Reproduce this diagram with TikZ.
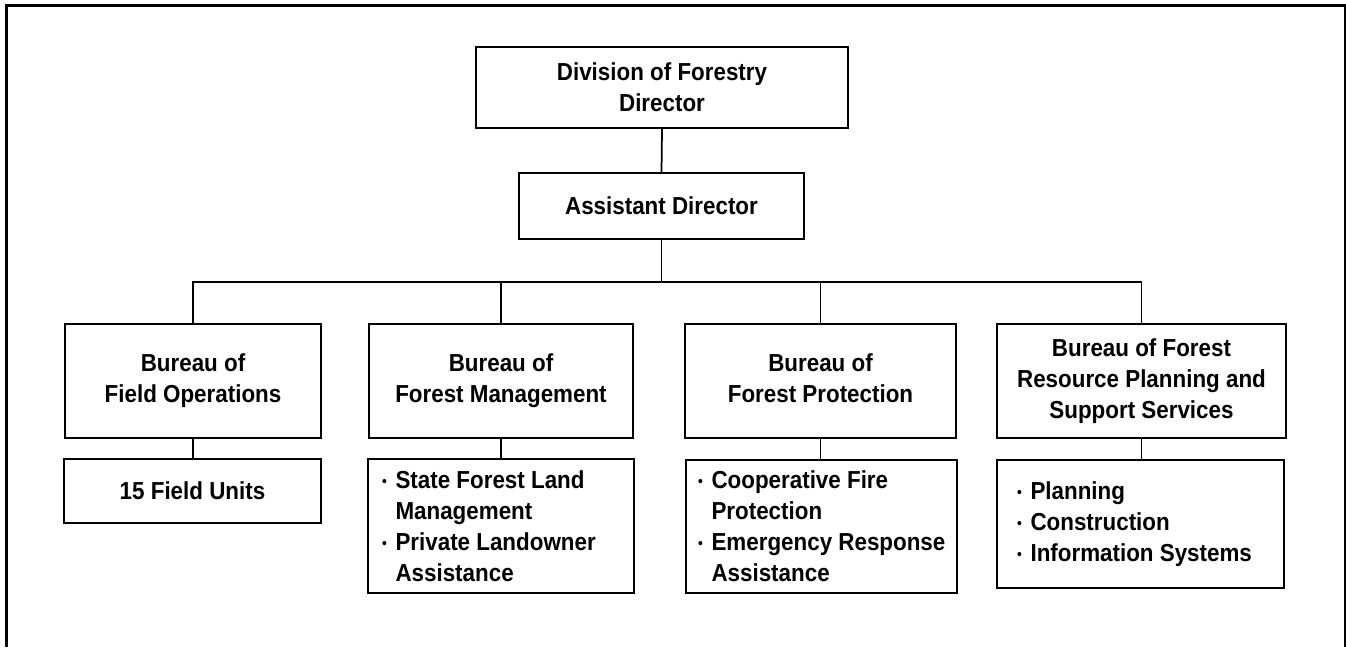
\documentclass[tikz,border=0pt]{standalone}
\usepackage{fontspec}
\setmainfont{Liberation Sans}[FakeStretch=0.91]
\usepackage{tikz}
\tikzstyle{box} = [draw,line width=0.9pt,align=center,inner sep=0pt,font=\fontsize{14}{17.6}\selectfont\bfseries]
\tikzstyle{list} = [box,align=flush left]
\tikzstyle{conn} = [line width=1pt]
\tikzstyle{frame} = [line width=1.5pt]
\newcommand{\bul}{\makebox[0.27cm][l]{\raisebox{1.2pt}{\fontsize{8.5}{8.5}\selectfont\textbullet}}}
\newcommand{\cont}{\hspace*{0.27cm}}

\begin{document}
\begin{tikzpicture}[x=0.02cm,y=-0.02cm]
          \useasboundingbox (0,0) rectangle (1346,647);
          % frame
          \draw [frame] (6.5,647) -- (6.5,5.5) -- (1345,5.5) -- (1345,647);

          % top
          \node[box,minimum width=7.44cm,minimum height=1.62cm] (dir) at (662,87.5) {Division of Forestry\\Director};
          \node[box,minimum width=5.7cm,minimum height=1.32cm] (asst) at (661.5,206) {Assistant Director};

          % bureaus
          \node[box,minimum width=5.12cm,minimum height=2.28cm] (b1) at (193,381) {Bureau of\\Field Operations};
          \node[box,minimum width=5.28cm,minimum height=2.28cm] (b2) at (501,381) {Bureau of\\Forest Management};
          \node[box,minimum width=5.42cm,minimum height=2.28cm] (b3) at (820.5,381) {Bureau of\\Forest Protection\vphantom{p}};
          \node[box,minimum width=5.78cm,minimum height=2.28cm] (b4) at (1141.5,381) {Bureau of Forest\\Resource Planning and\\Support Services};

          % units
          \node[box,minimum width=5.14cm,minimum height=1.28cm] (s1) at (192.5,491) {15 Field Units};
          \node[list,text width=4.76cm,inner xsep=0.28cm,minimum height=2.68cm] (s2) at (501,526) {\mbox{\bul State Forest Land}\\\mbox{\cont Management}\\\mbox{\bul Private Landowner}\\\mbox{\cont Assistance}};
          \node[list,text width=4.94cm,inner xsep=0.24cm,minimum height=2.66cm] (s3) at (821.5,526.5) {\mbox{\bul Cooperative Fire}\\\mbox{\cont Protection}\\\mbox{\bul Emergency Response}\\\mbox{\cont Assistance}};
          \node[list,text width=4.94cm,inner xsep=0.4cm,minimum height=2.56cm] (s4) at (1140.5,524) {\mbox{\bul Planning}\\\mbox{\bul Construction}\\\mbox{\bul Information Systems}};

          % lines
          \coordinate (bus) at (661.5,282);
          \draw [conn] (dir.south) -- (asst.north);
          \draw [conn] (asst.south) -- (bus);
          \draw [conn] (b1.north) -- (b1.north |- bus) -- (b4.north |- bus) -- (b4.north);
          \foreach \b in {b2,b3}
            \draw [conn] (\b.north) -- (\b.north |- bus);
          \foreach \n in {1,2,3,4}
            \draw [conn] (b\n.south) -- (b\n.south |- s\n.north);
\end{tikzpicture}
\end{document}
